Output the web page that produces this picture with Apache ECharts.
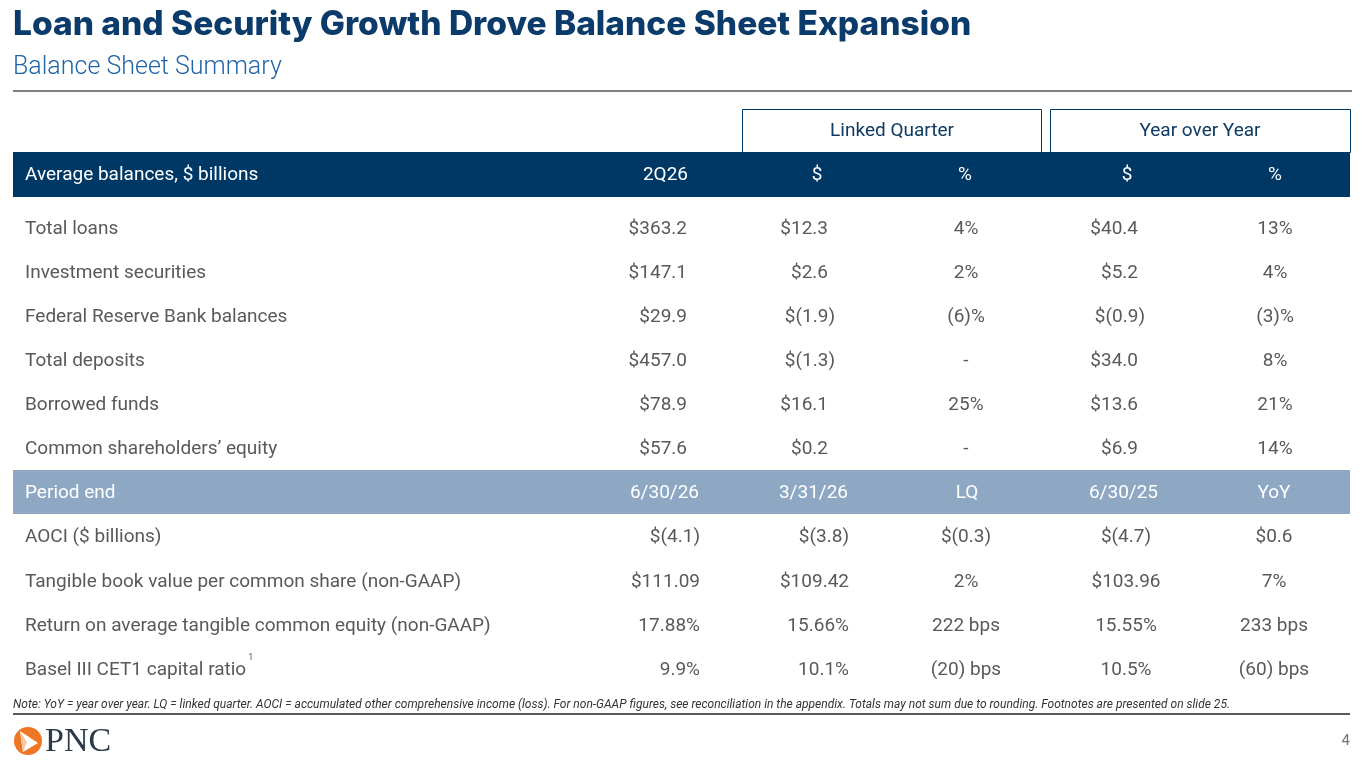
<!DOCTYPE html>
<html>
<head>
<meta charset="utf-8">
<script src="https://cdn.jsdelivr.net/npm/echarts@6/dist/echarts.min.js"></script>
<style>
  html, body { margin: 0; padding: 0; background: #fff; }
  #main { width: 1365px; height: 768px; }
</style>
</head>
<body>
<div id="main"></div>
<script>
// 平均余额（$ billions）
var avgLabels = ['Total loans', 'Investment securities', 'Federal Reserve Bank balances',
  'Total deposits', 'Borrowed funds', 'Common shareholders\u2019 equity'];
var avgHeaders = ['2Q26', '$', '%', '$', '%'];
var avg2Q26 = [363.2, 147.1, 29.9, 457.0, 78.9, 57.6];
var lqDollar = [12.3, 2.6, -1.9, -1.3, 16.1, 0.2];
var lqPct = [4, 2, -6, null, 25, null];
var yoyDollar = [40.4, 5.2, -0.9, 34.0, 13.6, 6.9];
var yoyPct = [13, 4, -3, 8, 21, 14];

// 期末
var periodLabels = ['AOCI ($ billions)', 'Tangible book value per common share (non-GAAP)',
  'Return on average tangible common equity (non-GAAP)', 'Basel III CET1 capital ratio'];
var periodFootnotes = [null, null, null, '1'];
var periodHeaders = ['6/30/26', '3/31/26', 'LQ', '6/30/25', 'YoY'];
var pe_6_30_26 = [-4.1, 111.09, 17.88, 9.9];
var pe_3_31_26 = [-3.8, 109.42, 15.66, 10.1];
var peLQ = [-0.3, 2, 222, -20];
var pe_6_30_25 = [-4.7, 103.96, 15.55, 10.5];
var peYoY = [0.6, 7, 233, -60];
var levelFmt = ['usd1', 'usd2', 'pct2', 'pct1'];
var changeFmt = ['usd1', 'pct0', 'bps', 'bps'];

var groupHeaders = ['Linked Quarter', 'Year over Year'];
var noteText = 'Note: YoY = year over year. LQ = linked quarter. AOCI = accumulated other comprehensive income (loss). For non-GAAP figures, see reconciliation in the appendix. Totals may not sum due to rounding. Footnotes are presented on slide 25.';

var FONT = 'Roboto, "Noto Sans", sans-serif';
var BODY = '19px ' + FONT;
var GREY = '#58595b';
var NAVY = '#003865';

var fmt = {
  usd1: function(v){ return v < 0 ? '$(' + Math.abs(v).toFixed(1) + ')' : '$' + v.toFixed(1); },
  usd2: function(v){ return '$' + v.toFixed(2); },
  pct0: function(v){ if (v == null) return '-'; return v < 0 ? '(' + Math.abs(v) + ')%' : v + '%'; },
  pct1: function(v){ return v.toFixed(1) + '%'; },
  pct2: function(v){ return v.toFixed(2) + '%'; },
  bps: function(v){ return v < 0 ? '(' + Math.abs(v) + ') bps' : v + ' bps'; }
};

// 文字宽度
var measureCtx = document.createElement('canvas').getContext('2d');
function textWidth(t, font) { measureCtx.font = font; return measureCtx.measureText(t).width; }

// 列位置
var avgCols = [{x:687,align:'right'},{x:828,align:'right',hang:true},{x:966,align:'center'},{x:1138,align:'right',hang:true},{x:1275,align:'center'}];
var headCols = [{x:688,align:'right'},{x:817,align:'center'},{x:965,align:'center'},{x:1127,align:'center'},{x:1275,align:'center'}];
var periodCols = [{x:700,align:'right'},{x:849,align:'right'},{x:966,align:'center'},{x:1126,align:'center'},{x:1274,align:'center'}];
var periodHeadCols = [{x:699,align:'right'},{x:848,align:'right'},{x:967,align:'center'},{x:1158,align:'right'},{x:1274,align:'center'}];

var rowNames = avgLabels.concat(['Period end']).concat(periodLabels);
var cells = [];
function addCell(col, row, text, color, font, dy) {
  var x = col.x;
  if (col.hang && /\)$/.test(text)) x += 7;
  cells.push({x: x, row: row, text: text, align: col.align, color: color || GREY, font: font || BODY, dy: dy || 0});
}
avgLabels.forEach(function(l, i){
  addCell({x:25,align:'left'}, i, l);
  addCell(avgCols[0], i, fmt.usd1(avg2Q26[i]));
  addCell(avgCols[1], i, fmt.usd1(lqDollar[i]));
  addCell(avgCols[2], i, fmt.pct0(lqPct[i]));
  addCell(avgCols[3], i, fmt.usd1(yoyDollar[i]));
  addCell(avgCols[4], i, fmt.pct0(yoyPct[i]));
});
var pr = avgLabels.length;
addCell({x:25,align:'left'}, pr, 'Period end', '#fff');
periodHeaders.forEach(function(h, j){ addCell(periodHeadCols[j], pr, h, '#fff'); });
periodLabels.forEach(function(l, i){
  var r = pr + 1 + i;
  addCell({x:25,align:'left'}, r, l);
  if (periodFootnotes[i]) {
    addCell({x:25 + textWidth(l, BODY) + 2, align:'left'}, r, periodFootnotes[i], GREY, '9px ' + FONT, -12);
  }
  addCell(periodCols[0], r, fmt[levelFmt[i]](pe_6_30_26[i]));
  addCell(periodCols[1], r, fmt[levelFmt[i]](pe_3_31_26[i]));
  addCell(periodCols[2], r, fmt[changeFmt[i]](peLQ[i]));
  addCell(periodCols[3], r, fmt[levelFmt[i]](pe_6_30_25[i]));
  addCell(periodCols[4], r, fmt[changeFmt[i]](peYoY[i]));
});

var graphics = [
  {type:'text', x:13, y:8, style:{text:'Loan and Security Growth Drove Balance Sheet Expansion', fill:'#0b3b6a', font:'800 33.5px Inter, sans-serif', verticalAlign:'top'}},
  {type:'text', x:13, y:55, style:{text:'Balance Sheet Summary', fill:'#1f64a6', font:'300 25px ' + FONT, verticalAlign:'top'}},
  {type:'line', shape:{x1:13, y1:91, x2:1352, y2:91}, style:{stroke:'#555', lineWidth:1.5}},
  {type:'rect', shape:{x:742.5, y:109.5, width:299, height:43}, style:{fill:'#fff', stroke:NAVY, lineWidth:1}},
  {type:'rect', shape:{x:1050.5, y:109.5, width:300, height:43}, style:{fill:'#fff', stroke:NAVY, lineWidth:1}},
  {type:'text', x:892, y:131, style:{text:groupHeaders[0], fill:'#0e3a63', font:BODY, align:'center', verticalAlign:'middle'}},
  {type:'text', x:1200, y:131, style:{text:groupHeaders[1], fill:'#0e3a63', font:BODY, align:'center', verticalAlign:'middle'}},
  {type:'rect', shape:{x:13, y:152, width:1337, height:45}, style:{fill:NAVY}},
  {type:'text', x:25, y:175, style:{text:'Average balances, $ billions', fill:'#fff', font:BODY, verticalAlign:'middle'}},
  {type:'rect', shape:{x:13, y:470, width:1337, height:44}, style:{fill:'#8ea8c4'}, z:-1},
  {type:'text', x:13, y:705, style:{text:noteText, fill:'#333', font:'italic 12px ' + FONT, verticalAlign:'middle'}},
  {type:'line', shape:{x1:13, y1:714, x2:1350, y2:714}, style:{stroke:'#222', lineWidth:1.5}},
  {type:'circle', shape:{cx:28, cy:741, r:14}, style:{fill:'#ef7622'}},
  {type:'polygon', shape:{points:[[20,731],[38,743],[23,752]]}, style:{fill:'#fff'}},
  {type:'polygon', shape:{points:[[20,731],[27,742],[23,752]]}, style:{fill:'#f9c9a6'}},
  {type:'text', x:45, y:742, style:{text:'PNC', fill:'#2d3a48', font:'34px "Liberation Serif", serif', verticalAlign:'middle'}},
  {type:'text', x:1350, y:741, style:{text:'4', fill:'#777', font:'15px ' + FONT, align:'right', verticalAlign:'middle'}}
];
avgHeaders.forEach(function(h, j){
  graphics.push({type:'text', x:headCols[j].x, y:175, style:{text:h, fill:'#fff', font:BODY, align:headCols[j].align, verticalAlign:'middle'}});
});

var chart = echarts.init(document.getElementById('main'));
chart.setOption({
  animation: false,
  grid: {left:0, right:0, top:207, bottom:76},
  xAxis: {type:'value', min:0, max:1365, show:false},
  yAxis: {type:'category', data:rowNames, inverse:true, show:false},
  graphic: graphics,
  series: [{
    type: 'custom',
    data: cells.map(function(c){ return [c.x, c.row]; }),
    renderItem: function(params, api){
      var c = cells[params.dataIndex];
      var p = api.coord([api.value(0), api.value(1)]);
      return {type:'text', style:{text:c.text, x:p[0], y:p[1] + c.dy, fill:c.color, font:c.font, align:c.align, verticalAlign:'middle'}};
    }
  }]
});
</script>
</body>
</html>
